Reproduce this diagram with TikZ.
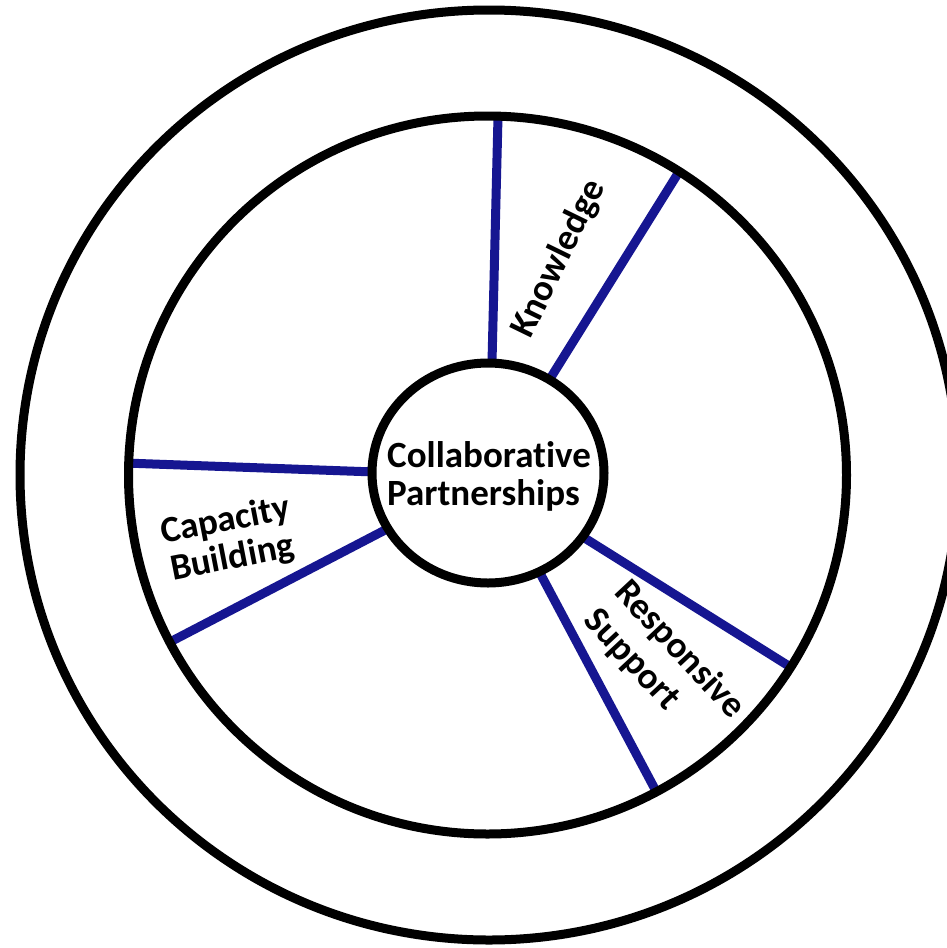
\documentclass[tikz,border=0pt]{standalone}
\usepackage{fontspec}
\setmainfont{Carlito}[Ligatures=NoCommon]
\usetikzlibrary{shapes.geometric}
\definecolor{spokeblue}{RGB}{22,22,145}
\tikzset{
  ring/.style={draw=black, line width=9pt},
  spoke/.style={draw=spokeblue, line width=9pt},
  lbl/.style={font=\bfseries\fontsize{37}{38}\selectfont, inner sep=0pt, text=black},
  corebox/.style={ellipse, draw=black, line width=9pt, fill=white, minimum width=232pt, minimum height=220pt, inner sep=0pt}
}
\begin{document}
\begin{tikzpicture}[x=1pt,y=-1pt]
\useasboundingbox (0,0) rectangle (947,948);
\clip (0,0) rectangle (947,948);
\fill[white] (0,0) rectangle (947,948);
% spoke end points
\coordinate (k1in) at (492,362);
\coordinate (k1out) at (498,117);
\coordinate (k2in) at (548,382);
\coordinate (k2out) at (677,175);
\coordinate (c1in) at (375,472);
\coordinate (c1out) at (125,463);
\coordinate (c2in) at (387,529);
\coordinate (c2out) at (170,642);
\coordinate (r1in) at (583,537);
\coordinate (r1out) at (792,668);
\coordinate (r2in) at (541,575);
\coordinate (r2out) at (657,793);
\draw[spoke] (k1in) -- (k1out);
\draw[spoke] (k2in) -- (k2out);
\draw[spoke] (c1in) -- (c1out);
\draw[spoke] (c2in) -- (c2out);
\draw[spoke] (r1in) -- (r1out);
\draw[spoke] (r2in) -- (r2out);
% rings
\node[circle, ring, minimum size=718pt, inner sep=0pt] (inner) at (487.5,475) {};
\node[ellipse, ring, minimum width=938pt, minimum height=930pt, inner sep=0pt] (outer) at (489,475) {};
\node[corebox] (core) at (488,473) {};
% labels
\node[lbl, align=left] (corelabel) at (489,476) {Collaborative\\Partnerships};
\node[lbl, rotate=64] (know) at (559,259) {Knowledge};
\node[lbl, align=center, rotate=11] (cap) at (229,540) {Capacity\\Building};
\node[lbl, align=left, rotate=-47, font=\bfseries\fontsize{37}{42}\selectfont] (resp) at (664,664) {Responsive\\Support};
\end{tikzpicture}
\end{document}
